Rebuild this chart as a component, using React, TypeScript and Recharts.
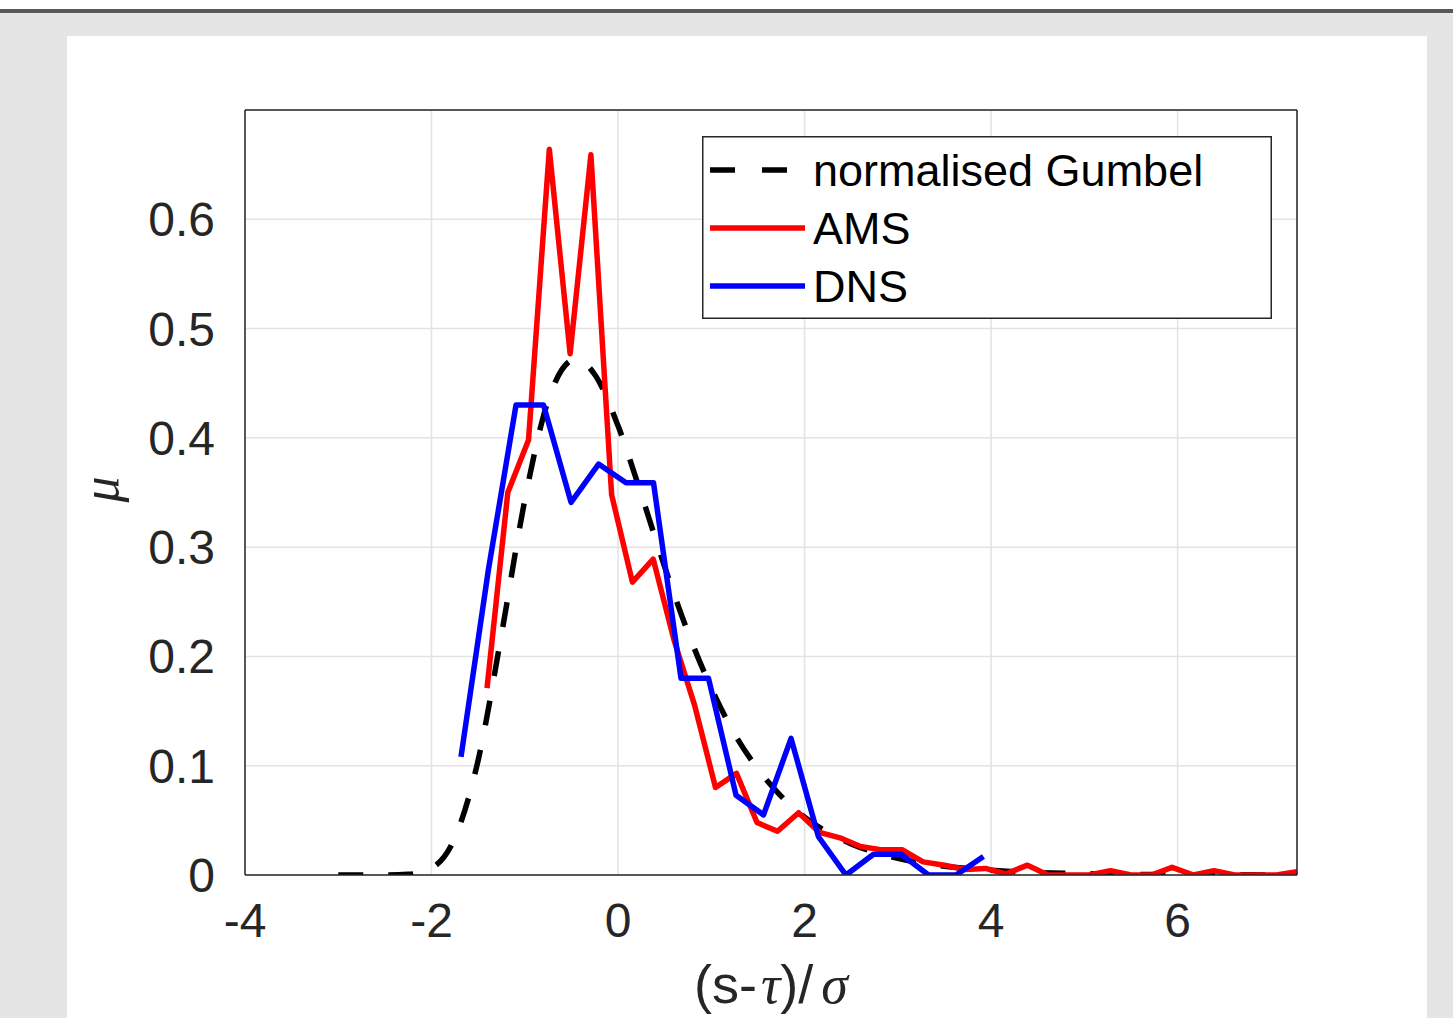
import React from 'react';
import { LineChart, Line, XAxis, YAxis, CartesianGrid, Legend } from 'recharts';

// AMS histogram
const amsX = [-1.405, -1.182, -0.96, -0.737, -0.514, -0.291, -0.069, 0.154, 0.377, 0.6, 0.822, 1.045, 1.27, 1.49, 1.71, 1.936, 2.16, 2.38, 2.6, 2.83, 3.05, 3.27, 3.5, 3.72, 3.94, 4.16, 4.39, 4.61, 4.83, 5.05, 5.28, 5.5, 5.72, 5.94, 6.17, 6.39, 6.61, 6.83, 7.06, 7.28];
const amsY = [0.171, 0.35, 0.398, 0.664, 0.477, 0.659, 0.348, 0.268, 0.289, 0.215, 0.155, 0.08, 0.093, 0.048, 0.04, 0.057, 0.039, 0.034, 0.026, 0.023, 0.023, 0.012, 0.009, 0.005, 0.006, 0.001, 0.009, 0, 0, 0, 0.004, 0, 0, 0.007, 0, 0.004, 0, 0, 0, 0.003];

// DNS histogram
const dnsX = [-1.684, -1.389, -1.094, -0.799, -0.504, -0.209, 0.086, 0.38, 0.675, 0.97, 1.265, 1.56, 1.855, 2.149, 2.444, 2.739, 3.034, 3.329, 3.624, 3.918];
const dnsY = [0.108, 0.28, 0.43, 0.43, 0.341, 0.376, 0.359, 0.359, 0.18, 0.18, 0.073, 0.055, 0.125, 0.035, 0, 0.019, 0.019, 0, 0, 0.017];

// normalised Gumbel curve
const gumX = [-3, -2.75, -2.5, -2.25, -2, -1.75, -1.5, -1.25, -1, -0.75, -0.5, -0.45, -0.25, 0, 0.25, 0.5, 0.75, 1, 1.25, 1.5, 1.75, 2, 2.25, 2.5, 2.75, 3, 3.25, 3.5, 3.75, 4, 4.5, 5, 5.5, 6, 6.5, 7, 7.28];
const gumY = [0, 0, 0, 0.0006, 0.0063, 0.034, 0.105, 0.22, 0.343, 0.434, 0.471, 0.472, 0.458, 0.411, 0.348, 0.282, 0.222, 0.171, 0.129, 0.097, 0.072, 0.053, 0.039, 0.0285, 0.0208, 0.0152, 0.011, 0.008, 0.0059, 0.0043, 0.0022, 0.0012, 0.0006, 0.0003, 0.0002, 0.0001, 0.0001];

const xTicks = [-4, -2, 0, 2, 4, 6];
const yTicks = [0, 0.1, 0.2, 0.3, 0.4, 0.5, 0.6];
const seriesNames = ['normalised Gumbel', 'AMS', 'DNS'];
const seriesColors = ['#000000', '#ff0000', '#0000ff'];

const toPts = (xs: number[], ys: number[]) => xs.map((x, i) => ({ x, y: ys[i] }));
const amsData = toPts(amsX, amsY);
const dnsData = toPts(dnsX, dnsY);
const gumData = toPts(gumX, gumY);

const XH = 60;
const YW = 100;
const AX = '#262626';
const LW = 5.5;
const FONT = '"Liberation Sans", Arial, Helvetica, sans-serif';
const GREEK = '"Liberation Serif", "Times New Roman", serif';

const XLabel = (props: any) => {
  const vb = props.viewBox || {};
  const cx = vb.x + vb.width / 2;
  const by = vb.y + 128;
  return (
    <text x={cx} y={by} textAnchor="middle" fontFamily={FONT} fontSize={54} fill={AX}>
      <tspan>(s-</tspan>
      <tspan fontFamily={GREEK} fontStyle="italic" dx={4}>τ</tspan>
      <tspan>)/</tspan>
      <tspan fontFamily={GREEK} fontStyle="italic" dx={8}>σ</tspan>
    </text>
  );
};

const YLabel = (props: any) => {
  const vb = props.viewBox || {};
  const x = 118;
  const y = vb.y + vb.height / 2 - 3;
  return (
    <text x={x} y={y} transform={`rotate(-90, ${x}, ${y})`} textAnchor="middle" fontFamily={GREEK} fontStyle="italic" fontSize={52} fill={AX}>
      μ
    </text>
  );
};

const LegendBox = () => {
  const rows = [34, 92, 150];
  return (
    <svg width={570} height={183} style={{ display: 'block' }}>
      <rect x={0.75} y={0.75} width={568.5} height={181.5} fill="#fff" stroke={AX} strokeWidth={1.5} />
      {seriesNames.map((n, i) => (
        <g key={n}>
          <line x1={8} x2={103} y1={rows[i]} y2={rows[i]} stroke={seriesColors[i]} strokeWidth={LW}
            strokeDasharray={i === 0 ? '25 27' : undefined} />
          <text x={111} y={rows[i] + 16} fontFamily={FONT} fontSize={45} fill="#000">{n}</text>
        </g>
      ))}
    </svg>
  );
};

export default function App() {
  return (
    <div style={{ position: 'absolute', left: 0, top: 0, width: 1453, height: 1018, background: '#e5e5e5', overflow: 'hidden' }}>
      <div style={{ position: 'absolute', left: 0, top: 0, width: 1453, height: 9, background: '#ffffff' }} />
      <div style={{ position: 'absolute', left: 0, top: 9, width: 1453, height: 4, background: '#585858' }} />
      <div style={{ position: 'absolute', left: 67, top: 36, width: 1360, height: 982, background: '#ffffff' }} />
      <div style={{ position: 'absolute', left: 0, top: 0 }}>
        <LineChart width={1453} height={1018} margin={{ top: 110, right: 156, bottom: 143 - XH, left: 245 - YW }}>
          <CartesianGrid stroke="#e3e3e3" strokeWidth={1.5} />
          <XAxis dataKey="x" type="number" domain={[-4, 7.28]} ticks={xTicks} allowDataOverflow
            height={XH} tickLine={false} tickSize={0} tickMargin={28}
            axisLine={{ stroke: AX, strokeWidth: 1.5 }}
            tick={{ fontFamily: FONT, fontSize: 48, fill: AX }}
            label={<XLabel />} />
          <XAxis xAxisId="bm" dataKey="x" type="number" domain={[-4, 7.28]} ticks={xTicks} allowDataOverflow
            orientation="bottom" mirror height={1} tick={false} tickSize={11}
            tickLine={{ stroke: AX, strokeWidth: 1.5 }} axisLine={false} />
          <XAxis xAxisId="top" dataKey="x" type="number" domain={[-4, 7.28]} ticks={xTicks} allowDataOverflow
            orientation="top" mirror height={1} tick={false} tickSize={11}
            tickLine={{ stroke: AX, strokeWidth: 1.5 }} axisLine={{ stroke: AX, strokeWidth: 1.5 }} />
          <YAxis type="number" domain={[0, 0.7]} ticks={yTicks} allowDataOverflow
            width={YW} tickLine={false} tickSize={0} tickMargin={30}
            axisLine={{ stroke: AX, strokeWidth: 1.5 }}
            tick={{ fontFamily: FONT, fontSize: 48, fill: AX }}
            tickFormatter={(v: number) => String(v)}
            label={<YLabel />} />
          <YAxis yAxisId="lm" type="number" domain={[0, 0.7]} ticks={yTicks} allowDataOverflow
            orientation="left" mirror width={1} tick={false} tickSize={11}
            tickLine={{ stroke: AX, strokeWidth: 1.5 }} axisLine={false} />
          <YAxis yAxisId="right" type="number" domain={[0, 0.7]} ticks={yTicks} allowDataOverflow
            orientation="right" mirror width={1} tick={false} tickSize={11}
            tickLine={{ stroke: AX, strokeWidth: 1.5 }} axisLine={{ stroke: AX, strokeWidth: 1.5 }} />
          <Line data={gumData} dataKey="y" name={seriesNames[0]} type="monotone" stroke={seriesColors[0]}
            strokeWidth={LW} strokeDasharray="25 25" dot={false} activeDot={false} isAnimationActive={false} />
          <Line data={amsData} dataKey="y" name={seriesNames[1]} type="linear" stroke={seriesColors[1]}
            strokeWidth={LW} strokeLinejoin="round" dot={false} activeDot={false} isAnimationActive={false} />
          <Line data={dnsData} dataKey="y" name={seriesNames[2]} type="linear" stroke={seriesColors[2]}
            strokeWidth={LW} strokeLinejoin="round" dot={false} activeDot={false} isAnimationActive={false} />
          <Legend layout="horizontal" verticalAlign="middle" align="center" content={() => <LegendBox />}
            wrapperStyle={{ left: 702, top: 136, width: 570, height: 183 }} />
        </LineChart>
      </div>
    </div>
  );
}
